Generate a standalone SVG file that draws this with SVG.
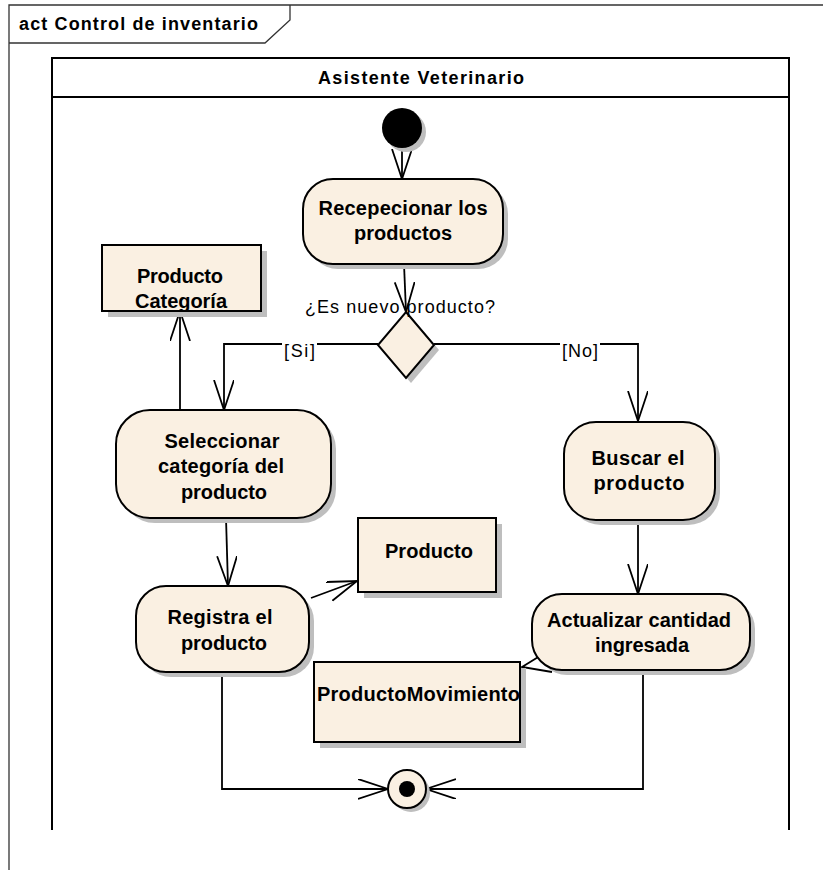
<svg xmlns="http://www.w3.org/2000/svg" width="823" height="870" viewBox="0 0 823 870">
  <defs>
    <marker id="open-arrow" markerUnits="userSpaceOnUse" markerWidth="32" markerHeight="22" refX="30" refY="10" orient="auto">
      <path d="M0,0 L30,10 L0,20" fill="none" stroke="#000" stroke-width="1.8"/>
    </marker>
  </defs>
  <style>
    .frame { fill: none; stroke: #333; stroke-width: 1.3; }
    .lane { fill: none; stroke: #000; stroke-width: 2; }
    .node { fill: #FAF0E2; stroke: #000; stroke-width: 2; }
    .shadow { fill: #BEBEBE; stroke: none; }
    .edge { fill: none; stroke: #000; stroke-width: 1.8; }
    .label { font-family: "Liberation Sans", Arial, sans-serif; font-weight: bold; font-size: 20px; fill: #000; }
    .guard { font-family: "Liberation Sans", Arial, sans-serif; font-size: 18px; fill: #000; }
    .title { font-family: "Liberation Sans", Arial, sans-serif; font-weight: bold; font-size: 18px; fill: #000; }
  </style>

  <rect width="823" height="870" fill="#fff"/>

  <!-- diagram frame with name tab -->
  <g id="frame">
    <path class="frame" d="M9,870 V5 H823"/>
    <path class="frame" d="M9,43 H265 L290,20 V5"/>
    <text class="title" x="19" y="30" textLength="239" lengthAdjust="spacing">act Control de inventario</text>
  </g>

  <!-- swimlane -->
  <g id="lane-asistente">
    <path class="lane" d="M52,830 V58 H789 V830"/>
    <line class="lane" x1="52" y1="97" x2="789" y2="97"/>
    <text class="title" x="421" y="84" text-anchor="middle" textLength="206" lengthAdjust="spacing">Asistente Veterinario</text>
  </g>

  <!-- connectors -->
  <g id="connectors">
    <path class="edge" d="M402,148 V179" marker-end="url(#open-arrow)"/>
    <path class="edge" d="M404,264 L406,312" marker-end="url(#open-arrow)"/>
    <path class="edge" d="M378,344 H224 V410" marker-end="url(#open-arrow)"/>
    <path class="edge" d="M434,344 H638 V421" marker-end="url(#open-arrow)"/>
    <path class="edge" d="M180,410 V311" marker-end="url(#open-arrow)"/>
    <path class="edge" d="M226,518 L228,586" marker-end="url(#open-arrow)"/>
    <path class="edge" d="M311,598 L357,581" marker-end="url(#open-arrow)"/>
    <path class="edge" d="M638,520 V594" marker-end="url(#open-arrow)"/>
    <path class="edge" d="M548,651 L522,667 L552,672"/>
    <path class="edge" d="M222,672 V789 H388" marker-end="url(#open-arrow)"/>
    <path class="edge" d="M643,670 V789 H426" marker-end="url(#open-arrow)"/>
    <!-- guard labels -->
    <rect x="282" y="343" width="35" height="18" fill="#fff"/>
    <text class="guard" x="284" y="357" textLength="31" lengthAdjust="spacing">[Si]</text>
    <rect x="560" y="343" width="40" height="18" fill="#fff"/>
    <text class="guard" x="562" y="357" textLength="36" lengthAdjust="spacing">[No]</text>
  </g>

  <g id="initial">
    <circle class="shadow" cx="406" cy="132" r="20"/>
    <circle cx="402" cy="128" r="20" fill="#000"/>
  </g>

  <g id="recepcionar">
    <rect class="shadow" x="308" y="184" width="200" height="85" rx="30"/>
    <rect class="node" x="303" y="179" width="200" height="85" rx="30"/>
    <text class="label" x="403" y="215" text-anchor="middle" textLength="169" lengthAdjust="spacing">Recepecionar los</text>
    <text class="label" x="403" y="240" text-anchor="middle" textLength="98" lengthAdjust="spacing">productos</text>
  </g>

  <g id="decision">
    <path class="shadow" d="M411,317 L439,350 L411,383 L383,350 Z"/>
    <path class="node" d="M406,312 L434,345 L406,378 L378,345 Z"/>
    <text class="guard" x="305" y="313" textLength="190" lengthAdjust="spacing">¿Es nuevo producto?</text>
  </g>

  <g id="producto-categoria">
    <rect class="shadow" x="108" y="251" width="159" height="66"/>
    <rect class="node" x="102" y="245" width="159" height="66"/>
    <text class="label" x="180" y="283" text-anchor="middle" textLength="86" lengthAdjust="spacing">Producto</text>
    <text class="label" x="181" y="308" text-anchor="middle" textLength="92" lengthAdjust="spacing">Categoría</text>
  </g>

  <g id="seleccionar">
    <rect class="shadow" x="121" y="415" width="215" height="108" rx="34"/>
    <rect class="node" x="116" y="410" width="215" height="108" rx="34"/>
    <text class="label" x="222" y="448" text-anchor="middle" textLength="115" lengthAdjust="spacing">Seleccionar</text>
    <text class="label" x="221" y="473" text-anchor="middle" textLength="126" lengthAdjust="spacing">categoría del</text>
    <text class="label" x="224" y="499" text-anchor="middle" textLength="86" lengthAdjust="spacing">producto</text>
  </g>

  <g id="buscar">
    <rect class="shadow" x="569" y="427" width="151" height="98" rx="32"/>
    <rect class="node" x="564" y="422" width="151" height="98" rx="32"/>
    <text class="label" x="638" y="465" text-anchor="middle" textLength="93" lengthAdjust="spacing">Buscar el</text>
    <text class="label" x="639" y="490" text-anchor="middle" textLength="91" lengthAdjust="spacing">producto</text>
  </g>

  <g id="producto">
    <rect class="shadow" x="364" y="524" width="138" height="74"/>
    <rect class="node" x="358" y="518" width="138" height="74"/>
    <text class="label" x="429" y="558" text-anchor="middle" textLength="88" lengthAdjust="spacing">Producto</text>
  </g>

  <g id="registra">
    <rect class="shadow" x="141" y="591" width="173" height="86" rx="30"/>
    <rect class="node" x="136" y="586" width="173" height="86" rx="30"/>
    <text class="label" x="220" y="624" text-anchor="middle" textLength="105" lengthAdjust="spacing">Registra el</text>
    <text class="label" x="224" y="650" text-anchor="middle" textLength="86" lengthAdjust="spacing">producto</text>
  </g>

  <g id="actualizar">
    <rect class="shadow" x="537" y="599" width="218" height="76" rx="30"/>
    <rect class="node" x="532" y="594" width="218" height="76" rx="30"/>
    <text class="label" x="639" y="627" text-anchor="middle" textLength="184" lengthAdjust="spacing">Actualizar cantidad</text>
    <text class="label" x="642" y="652" text-anchor="middle" textLength="94" lengthAdjust="spacing">ingresada</text>
  </g>

  <g id="producto-movimiento">
    <rect class="shadow" x="320" y="668" width="206" height="80"/>
    <rect class="node" x="314" y="662" width="206" height="80"/>
    <text class="label" x="317" y="701" textLength="203" lengthAdjust="spacing">ProductoMovimiento</text>
  </g>

  <g id="final">
    <circle class="shadow" cx="411" cy="793" r="19"/>
    <circle class="node" cx="407" cy="789" r="19"/>
    <circle cx="407" cy="789" r="8" fill="#000"/>
  </g>
</svg>
